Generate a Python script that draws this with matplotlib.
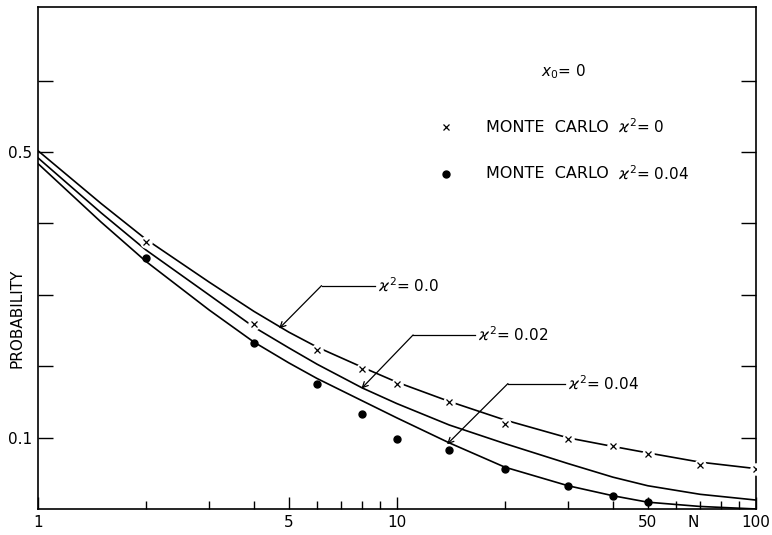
import matplotlib
matplotlib.use("Agg")
import matplotlib.pyplot as plt

# theoretical curves
n_curve = [1, 1.5, 2, 3, 4, 5, 6, 8, 10, 14, 20, 30, 40, 50, 70, 100]
p_k0 = [0.502, 0.428, 0.378, 0.318, 0.277, 0.248, 0.227, 0.199, 0.178, 0.151,
        0.125, 0.100, 0.088, 0.079, 0.066, 0.057]
p_k002 = [0.492, 0.415, 0.363, 0.300, 0.255, 0.226, 0.203, 0.170, 0.148, 0.118,
          0.092, 0.064, 0.045, 0.033, 0.021, 0.013]
p_k004 = [0.484, 0.402, 0.347, 0.279, 0.234, 0.205, 0.183, 0.152, 0.128, 0.093,
          0.059, 0.033, 0.019, 0.010, 0.004, 0.0005]

# Monte Carlo points
n_mc0 = [2, 4, 6, 8, 10, 14, 20, 30, 40, 50, 70, 100]
p_mc0 = [0.374, 0.259, 0.223, 0.197, 0.176, 0.150, 0.119, 0.098, 0.089, 0.077, 0.062, 0.056]
n_mc4 = [2, 4, 6, 8, 10, 14, 20, 30, 40, 50]
p_mc4 = [0.351, 0.233, 0.175, 0.133, 0.099, 0.083, 0.056, 0.032, 0.018, 0.010]

x_ticks = [1, 5, 10, 50, 100]
x_ticklabels = ["1", "5", "10", "50", "100"]
y_ticks = [0.1, 0.2, 0.3, 0.4, 0.5, 0.6]
y_ticklabels = ["0.1", "", "", "", "0.5", ""]

plt.rcParams["font.family"] = ["DejaVu Sans"]
plt.rcParams["mathtext.fontset"] = "dejavusans"

fig = plt.figure(figsize=(7.72, 5.35), dpi=100)
ax = fig.add_axes([0.049, 0.048, 0.93, 0.939])

lw = 1.2
ax.plot(n_curve, p_k0, color="black", lw=lw, zorder=2)
ax.plot(n_curve, p_k002, color="black", lw=lw, zorder=2)
ax.plot(n_curve, p_k004, color="black", lw=lw, zorder=2)

# crosses break the line around them
ax.plot(n_mc0, p_mc0, "o", ms=9, mfc="white", mec="none", zorder=3)
ax.plot(n_mc0, p_mc0, "x", ms=5, mew=0.9, color="black", zorder=4)
ax.plot(n_mc4, p_mc4, "o", ms=5, color="black", zorder=4)

ax.set_xscale("log")
ax.set_xlim(1, 100)
ax.set_ylim(0, 0.703)

ax.set_xticks(x_ticks)
ax.set_xticklabels(x_ticklabels)
ax.set_xticks([2, 3, 4, 6, 7, 8, 9, 20, 30, 40, 60, 70, 80, 90], minor=True)
ax.xaxis.set_minor_formatter(plt.NullFormatter())
ax.set_yticks(y_ticks)
ax.set_yticklabels(y_ticklabels)
ax.tick_params(axis="x", which="major", direction="in", length=9, width=1,
               labelsize=11, pad=4, top=False)
ax.tick_params(axis="x", which="minor", direction="in", length=6, width=1, top=False)
ax.tick_params(axis="y", which="major", direction="in", length=11, width=1,
               labelsize=11, right=True, pad=4)
ax.tick_params(axis="y", which="minor", left=False, right=False)
for s in ax.spines.values():
    s.set_linewidth(1.2)

ax.text(66.8, -0.0085, "N", ha="center", va="top", fontsize=11)
fig.text(17 / 772, 1 - 318 / 535, "PROBABILITY", rotation=90,
         ha="center", va="center", fontsize=11)

# curve labels with leader arrows
labels = [
    (r"$\varkappa^2$= 0.0", (4.70, 0.253), (6.17, 0.313), 8.85),
    (r"$\varkappa^2$= 0.02", (7.97, 0.169), (11.1, 0.244), 16.8),
    (r"$\varkappa^2$= 0.04", (13.8, 0.091), (20.4, 0.176), 30.0),
]
for txt, tip, elbow, tx in labels:
    ax.annotate("", xy=tip, xytext=elbow,
                arrowprops=dict(arrowstyle="->", lw=0.9, color="black",
                                shrinkA=0, shrinkB=0))
    ax.plot([elbow[0], tx * 0.98], [elbow[1], elbow[1]], color="black", lw=0.9)
    ax.text(tx, elbow[1], txt, va="center", ha="left", fontsize=11)

# legend block
ax.text(0.701, 0.871, r"$x_0$= 0", transform=ax.transAxes, va="center", fontsize=11)
ax.plot([0.569], [0.761], "x", ms=5, mew=0.9, color="black", transform=ax.transAxes)
ax.text(0.624, 0.761, "MONTE  CARLO", transform=ax.transAxes, va="center", fontsize=11.5)
ax.text(0.808, 0.761, r"$\varkappa^2$= 0", transform=ax.transAxes, va="center", fontsize=11)
ax.plot([0.569], [0.668], "o", ms=5, color="black", transform=ax.transAxes)
ax.text(0.624, 0.668, "MONTE  CARLO", transform=ax.transAxes, va="center", fontsize=11.5)
ax.text(0.808, 0.668, r"$\varkappa^2$= 0.04", transform=ax.transAxes, va="center", fontsize=11)

fig.savefig("out.png", dpi=100)
